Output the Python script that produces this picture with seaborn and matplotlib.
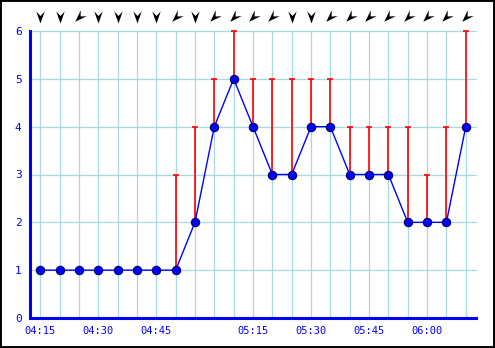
import numpy as np
import pandas as pd
import matplotlib
matplotlib.use("Agg")
import matplotlib.pyplot as plt
from matplotlib.path import Path
from matplotlib.markers import MarkerStyle
from matplotlib.transforms import Affine2D
from matplotlib.patches import Rectangle
import seaborn as sns

# ---- data ----
times = ["04:15", "04:20", "04:25", "04:30", "04:35", "04:40", "04:45", "04:50",
         "04:55", "05:05", "05:10", "05:15", "05:20", "05:25", "05:30", "05:35",
         "05:40", "05:45", "05:50", "05:55", "06:00", "06:05", "06:10"]
speed = [1, 1, 1, 1, 1, 1, 1, 1, 2, 4, 5, 4, 3, 3, 4, 4, 3, 3, 3, 2, 2, 2, 4]
gust = [1, 1, 1, 1, 1, 1, 1, 3, 4, 5, 6, 5, 5, 5, 5, 5, 4, 4, 4, 4, 3, 4, 6]
direction = [0, 0, 45, 0, 0, 0, 0, 45, 0, 45, 45, 45, 45, 0, 0, 45,
             45, 45, 45, 45, 45, 45, 45]
y_ticks = [0, 1, 2, 3, 4, 5, 6]

df = pd.DataFrame({"i": np.arange(len(times)), "time": times,
                   "speed": speed, "gust": gust, "dir": direction})
xlabels = [t if int(t[3:]) % 15 == 0 else "" for t in times]

sns.set_style("white")
plt.rcParams["font.family"] = ["DejaVu Sans Mono"]

W, H = 495, 348
fig = plt.figure(figsize=(W / 100, H / 100), dpi=100)
ax = fig.add_axes([30 / W, 30 / H, 446 / W, 287 / H])

blue = "#0000ff"
grid_c = "#a8d8e6"

# grid
for yv in y_ticks[1:]:
    ax.axhline(yv, color=grid_c, lw=0.9, zorder=0, clip_on=False)
for xv in df["i"]:
    ax.axvline(xv, color=grid_c, lw=0.9, zorder=0)

# gust bars
m = df["gust"] > df["speed"]
ax.vlines(df.loc[m, "i"], df.loc[m, "speed"], df.loc[m, "gust"], color="red", lw=1.2, zorder=2)
ax.scatter(df.loc[m, "i"], df.loc[m, "gust"], marker="_", s=22, color="red", lw=1.2, zorder=2, clip_on=False)

# speed line
sns.lineplot(data=df, x="i", y="speed", ax=ax, color=blue, lw=1.0, zorder=3,
             marker="o", markersize=6, markerfacecolor=blue, markeredgecolor="#000060",
             markeredgewidth=0.8, clip_on=False)

# direction arrows
verts = [(0, -1), (0.7, 1.0), (0, 0.25), (-0.7, 1.0), (0, -1)]
codes = [Path.MOVETO, Path.LINETO, Path.LINETO, Path.LINETO, Path.CLOSEPOLY]
dart = Path(verts, codes)
arrow_y = 6 + 14 / 47.8
for xi, d in zip(df["i"], df["dir"]):
    mk = MarkerStyle(dart, transform=Affine2D().rotate_deg(-d))
    ax.scatter([xi], [arrow_y], marker=mk, s=75, color="black", lw=0, clip_on=False, zorder=5)

ax.set_xlim(-0.53, 22.53)
ax.set_ylim(0, 6)
ax.set_xticks(df["i"])
ax.set_xticklabels(xlabels)
ax.set_yticks(y_ticks)
ax.set_yticklabels([str(v) for v in y_ticks])
ax.set_xlabel("")
ax.set_ylabel("")

for s in ["top", "right"]:
    ax.spines[s].set_visible(False)
for s in ["left", "bottom"]:
    ax.spines[s].set_color(blue)
    ax.spines[s].set_linewidth(2.2)
    ax.spines[s].set_zorder(6)
ax.spines["left"].set_bounds(0, 6)

ax.tick_params(axis="x", direction="in", length=4, width=1.2, color=blue,
               labelcolor=blue, labelsize=7.5, pad=6)
ax.tick_params(axis="y", direction="in", length=5, width=1.2, color=blue,
               labelcolor=blue, labelsize=8, pad=6)

fig.patches.append(Rectangle((0, 0), 1, 1, transform=fig.transFigure, fill=False,
                             edgecolor="black", lw=2.8, zorder=10))

fig.savefig("out.png", dpi=100)
